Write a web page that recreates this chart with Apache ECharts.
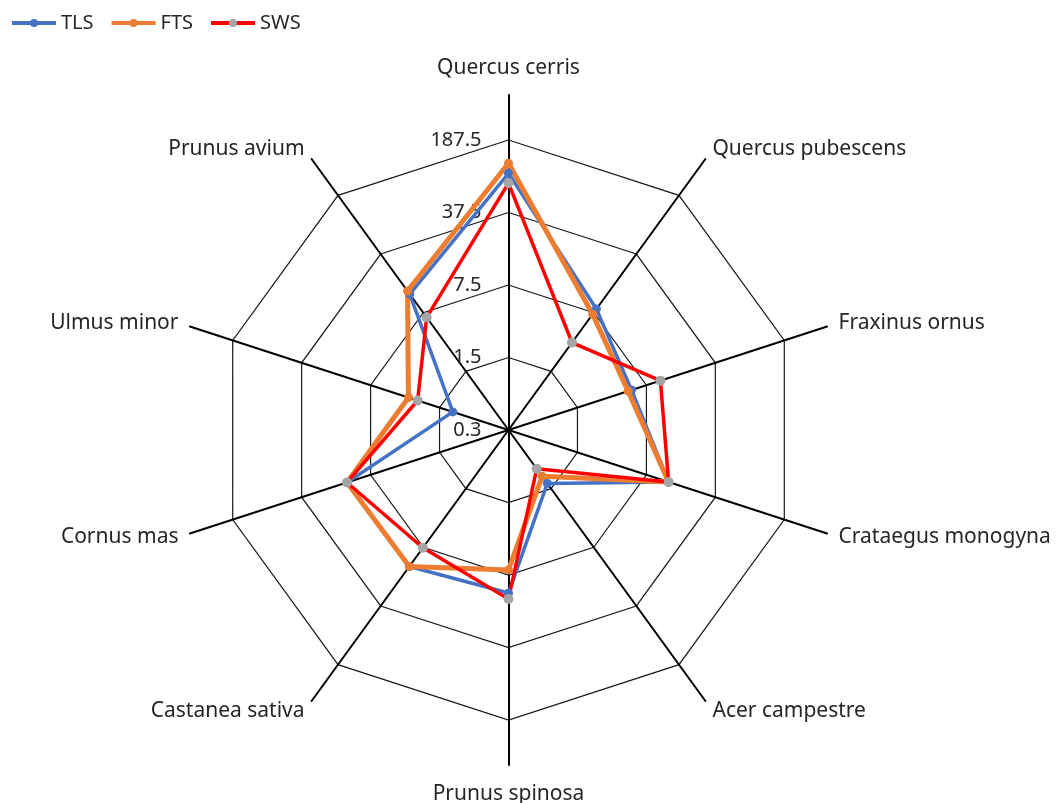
<!DOCTYPE html>
<html lang="en">
<head>
    <meta charset="UTF-8">
    <title>Radar</title>
    <script src="https://cdn.jsdelivr.net/npm/echarts@6/dist/echarts.min.js"></script>
</head>
<body style="margin:0">
<div id="main" style="width:1059px;height:803px;"></div>
<script type="text/javascript">
    // species, clockwise from the top
    var species = ['Quercus cerris', 'Quercus pubescens', 'Fraxinus ornus', 'Crataegus monogyna',
        'Acer campestre', 'Prunus spinosa', 'Castanea sativa', 'Cornus mas', 'Ulmus minor', 'Prunus avium'];
    var tls = [89.5, 8.3, 5.3, 12.6, 1.3, 11.2, 12.7, 13, 1.1, 12.5];
    var fts = [112, 7.2, 4.9, 12.6, 1.07, 6.7, 12.7, 13, 3.1, 13.6];
    var sws = [72, 3.3, 10.4, 12.6, 0.87, 12.8, 7.6, 13, 2.5, 6.6];
    var tickLabels = ['0.3', '1.5', '7.5', '37.5', '187.5'];
    var logMin = 0.3, logBase = 5;

    // echarts radar goes counter-clockwise, so walk the list backwards after the first one
    var order = [0];
    for (var i = species.length - 1; i > 0; i--) order.push(i);

    function toAxis(v) {
        return Math.log(v / logMin) / Math.log(logBase);
    }
    function pick(arr) {
        return order.map(function (i) { return toAxis(arr[i]); });
    }

    var font = 'Noto Sans';
    var textColor = '#262626';
    var styles = {
        TLS: {line: '#4472C4', dot: '#4472C4', width: 3.5, size: 9},
        FTS: {line: '#ED7D31', dot: '#ED7D31', width: 5, size: 9},
        SWS: {line: '#FF0000', dot: '#A5A5A5', width: 3.5, size: 10}
    };
    var names = ['TLS', 'FTS', 'SWS'];
    var values = {TLS: tls, FTS: fts, SWS: sws};

    var series = [];
    // empty line series only give the legend its line-with-dot icons
    names.forEach(function (n) {
        series.push({
            name: n, type: 'line', data: [],
            symbol: 'circle',
            lineStyle: {color: styles[n].line, width: 3.5},
            itemStyle: {color: styles[n].dot}
        });
    });
    names.forEach(function (n) {
        series.push({
            name: n, type: 'radar', radarIndex: 0,
            symbol: 'circle', symbolSize: styles[n].size,
            lineStyle: {color: styles[n].line, width: styles[n].width},
            itemStyle: {color: styles[n].dot},
            data: [{name: n, value: pick(values[n])}]
        });
    });

    var myChart = echarts.init(document.getElementById('main'));
    var option = {
        grid: {show: false, left: 0, top: 0, width: 1, height: 1},
        xAxis: {show: false, type: 'category'},
        yAxis: {show: false},
        legend: {
            left: 5, top: 8,
            itemWidth: 44, itemHeight: 10, itemGap: 16,
            lineStyle: {width: 4},
            textStyle: {fontFamily: font, fontSize: 20, color: textColor},
            data: names
        },
        radar: [{
            // grid rings
            center: [508.5, 430],
            radius: 290,
            startAngle: 90,
            splitNumber: 4,
            shape: 'polygon',
            indicator: order.map(function (i, k) {
                return {name: species[i], min: 0, max: 4, axisLabel: {show: k === 0}};
            }),
            axisName: {show: false},
            axisLine: {show: false},
            axisTick: {show: false},
            splitArea: {show: false},
            splitLine: {lineStyle: {color: '#1a1a1a', width: 1.2}},
            axisLabel: {
                show: true,
                margin: 27,
                fontFamily: font, fontSize: 20, color: textColor,
                formatter: function (v) { return tickLabels[Math.round(v)]; }
            }
        }, {
            // spokes and names
            center: [508.5, 430],
            radius: 335,
            startAngle: 90,
            shape: 'polygon',
            indicator: order.map(function (i) {
                var gap = 12;
                if (i === 0) gap = 16;
                if (i === 5) gap = 19;
                return {name: species[i], min: 0, max: 4, nameGap: gap};
            }),
            axisName: {fontFamily: font, fontSize: 21, color: textColor},
            axisLine: {lineStyle: {color: '#000', width: 2}},
            splitLine: {show: false},
            splitArea: {show: false}
        }],
        series: series
    };
    myChart.setOption(option);
</script>
</body>
</html>
